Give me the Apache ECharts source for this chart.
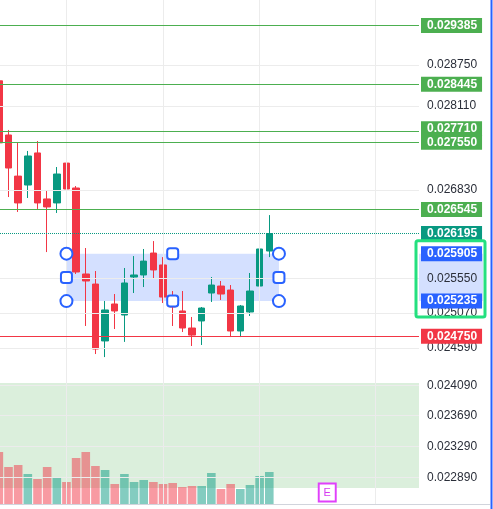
<!DOCTYPE html>
<html>
<head>
<meta charset="utf-8">
<script src="https://cdn.jsdelivr.net/npm/echarts@6.0.0/dist/echarts.min.js"></script>
<style>
  html, body { margin: 0; padding: 0; background: #fff; }
  #chart { width: 493px; height: 509px; }
</style>
</head>
<body>
<div id="chart"></div>
<script>
// candles (oldest first), the first one is cut by the left edge
const opens  = [0.02850, 0.027660, 0.027039, 0.026906, 0.027387, 0.026700, 0.026641, 0.027234, 0.026862, 0.025616,
                0.025474, 0.024686, 0.025195, 0.025042, 0.025573, 0.025602, 0.025914, 0.025744, 0.025279, 0.025098,
                0.024863, 0.024960, 0.025348, 0.025446, 0.025390, 0.024822, 0.025084, 0.025446, 0.025943];
const highs  = [0.02853, 0.027737, 0.027538, 0.027417, 0.027568, 0.026817, 0.027175, 0.027372, 0.026891, 0.025986,
                0.025658, 0.025237, 0.025334, 0.025701, 0.025871, 0.025972, 0.026086, 0.025856, 0.025376, 0.025376,
                0.025015, 0.025153, 0.025573, 0.025517, 0.025460, 0.025181, 0.025630, 0.026130, 0.026463];
const lows   = [0.02749, 0.026728, 0.026509, 0.026714, 0.026553, 0.025928, 0.026494, 0.026656, 0.025616, 0.024891,
                0.024508, 0.024467, 0.024849, 0.024673, 0.025348, 0.025432, 0.025545, 0.025209, 0.024891, 0.024808,
                0.024617, 0.024631, 0.025223, 0.025251, 0.024739, 0.024739, 0.025029, 0.025432, 0.025856];
const closes = [0.02754, 0.027160, 0.026641, 0.027341, 0.026641, 0.026582, 0.027070, 0.026847, 0.025644, 0.025517,
                0.024576, 0.025112, 0.025098, 0.025489, 0.025602, 0.025799, 0.025673, 0.025292, 0.025153, 0.024863,
                0.024766, 0.025139, 0.025460, 0.025334, 0.024822, 0.025167, 0.025376, 0.025972, 0.026195];
const volumes = [520, 370, 390, 300, 250, 370, 260, 220, 460, 520,
                 380, 340, 200, 300, 220, 240, 220, 200, 210, 170,
                 180, 180, 310, 150, 200, 150, 190, 280, 320];

// visible bar range (bar index units) and price range of the pane
const barRange = [0.12, 43.5];
const priceRange = [0.022560, 0.029801];

const greenLevels = [0.029385, 0.028445, 0.027710, 0.027550, 0.026545];
const redLevel = 0.024750;
const lastPrice = 0.026195;
const rectTop = 0.025905, rectBottom = 0.025235;
const rectFrom = 7, rectTo = 29;
const priceTicks = [0.028750, 0.028110, 0.026830, 0.025550, 0.025070, 0.024590, 0.024090, 0.023690, 0.023290, 0.022890];
const timeLines = [7, 17, 27, 39];
const greenZone = [0.024119, 0.022760];
const earningsAt = 34;

const UP = '#089981', DOWN = '#f23645', GREEN = '#4caf50', BLUE = '#2962ff';
const FONT = '"Liberation Sans", Arial, sans-serif';

// price pane is logarithmic: feed ln(price) to a linear axis
const L = Math.log;

const candleData = opens.map((o, i) => [i, L(o), L(closes[i]), L(lows[i]), L(highs[i])]);
const volumeData = volumes.map((v, i) => ({
  value: [i, v],
  itemStyle: { color: closes[i] >= opens[i] ? 'rgba(8,153,129,0.5)' : 'rgba(242,54,69,0.5)' }
}));

function tagLabel(bg, text, extra) {
  return Object.assign({
    show: true, position: 'end', distance: 2, formatter: text,
    backgroundColor: bg, color: '#fff', fontWeight: 'bold', fontSize: 12, fontFamily: FONT,
    padding: [1, 5, 1, 6], lineHeight: 13
  }, extra || {});
}

const gridLines = priceTicks.map(t => ({
  yAxis: L(t),
  label: { show: true, position: 'end', distance: 2, formatter: t.toFixed(6), color: '#2a2e39',
           fontSize: 12, fontFamily: FONT, padding: [1, 5, 1, 6], lineHeight: 13 }
})).concat(timeLines.map(i => ({ xAxis: i, label: { show: false } })));

const levelLines = greenLevels.map(v => ({
  yAxis: L(v),
  lineStyle: { color: GREEN, width: 1, type: 'solid' },
  label: tagLabel(GREEN, v.toFixed(6), v === 0.027710 ? { offset: [0, -3] } : {})
})).concat([
  { yAxis: L(redLevel), lineStyle: { color: DOWN, width: 1, type: 'solid' }, label: tagLabel(DOWN, redLevel.toFixed(6)) },
  { yAxis: L(lastPrice), lineStyle: { color: UP, width: 1, type: 'dotted' }, label: tagLabel(UP, lastPrice.toFixed(6)) },
  { yAxis: L(rectTop), lineStyle: { color: 'rgba(0,0,0,0)' }, label: tagLabel(BLUE, rectTop.toFixed(6)) },
  { yAxis: L(rectBottom), lineStyle: { color: 'rgba(0,0,0,0)' }, label: tagLabel(BLUE, rectBottom.toFixed(6)) }
]);

const handleStyle = { color: '#fff', borderColor: BLUE, borderWidth: 2 };
const rectMidY = (L(rectTop) + L(rectBottom)) / 2;
const rectMidX = Math.round((rectFrom + rectTo) / 2);
const handles = [
  { coord: [rectFrom, L(rectTop)], symbol: 'circle', symbolSize: 12 },
  { coord: [rectFrom, L(rectBottom)], symbol: 'circle', symbolSize: 12 },
  { coord: [rectTo, L(rectTop)], symbol: 'circle', symbolSize: 12 },
  { coord: [rectTo, L(rectBottom)], symbol: 'circle', symbolSize: 12 },
  { coord: [rectFrom, rectMidY], symbol: 'roundRect', symbolSize: 11 },
  { coord: [rectTo, rectMidY], symbol: 'roundRect', symbolSize: 11 },
  { coord: [rectMidX, L(rectTop)], symbol: 'roundRect', symbolSize: 11 },
  { coord: [rectMidX, L(rectBottom)], symbol: 'roundRect', symbolSize: 11 }
].map(h => Object.assign(h, { itemStyle: handleStyle }));

const chart = echarts.init(document.getElementById('chart'), null, { renderer: 'canvas' });

chart.setOption({
  animation: false,
  backgroundColor: '#fff',
  grid: [
    { left: 0, right: 74, top: 0, bottom: 5 },
    { left: 0, right: 74, top: 404, bottom: 5 }
  ],
  xAxis: [
    { type: 'value', gridIndex: 0, min: barRange[0], max: barRange[1], show: false, splitLine: { show: false } },
    { type: 'value', gridIndex: 1, min: barRange[0], max: barRange[1], show: false, splitLine: { show: false } }
  ],
  yAxis: [
    { type: 'value', gridIndex: 0, min: L(priceRange[0]), max: L(priceRange[1]), scale: true, show: false, splitLine: { show: false } },
    { type: 'value', gridIndex: 1, min: 0, max: 1000, show: false, splitLine: { show: false } }
  ],
  series: [
    {
      name: 'volume', type: 'bar', xAxisIndex: 1, yAxisIndex: 1, z: 1,
      data: volumeData, barWidth: 8.6, clip: true,
      markPoint: {
        silent: true,
        data: [{
          coord: [earningsAt, 115], symbol: 'rect', symbolSize: [17, 18],
          itemStyle: { color: '#fff', borderColor: '#e040fb', borderWidth: 2 },
          label: { show: true, formatter: 'E', color: '#d53bf0', fontSize: 11, fontFamily: FONT }
        }]
      }
    },
    {
      name: 'grid', type: 'line', data: [], z: 1,
      markLine: {
        silent: true, symbol: ['none', 'none'], animation: false, precision: 12,
        lineStyle: { color: '#ececec', width: 1, type: 'solid' },
        data: gridLines
      }
    },
    {
      name: 'zone', type: 'line', data: [], z: 2,
      markArea: {
        silent: true,
        itemStyle: { color: 'rgba(76,175,80,0.2)' },
        data: [[{ yAxis: L(greenZone[0]) }, { yAxis: L(greenZone[1]) }]]
      }
    },
    {
      name: 'price', type: 'candlestick', z: 3, data: candleData, barWidth: 7, clip: true,
      itemStyle: { color: UP, color0: DOWN, borderColor: UP, borderColor0: DOWN, borderWidth: 1 }
    },
    {
      name: 'levels', type: 'line', data: [], z: 4,
      markLine: { silent: true, symbol: ['none', 'none'], animation: false, precision: 12, data: levelLines }
    },
    {
      name: 'rectangle', type: 'line', data: [], z: 5,
      markArea: {
        silent: true,
        itemStyle: { color: 'rgba(41,98,255,0.2)' },
        data: [[{ coord: [rectFrom, L(rectTop)] }, { coord: [rectTo, L(rectBottom)] }]]
      },
      markPoint: { silent: true, label: { show: false }, data: handles }
    }
  ]
});

// price-scale highlight of the selected rectangle
const yTop = chart.convertToPixel({ yAxisIndex: 0 }, L(rectTop));
const yBot = chart.convertToPixel({ yAxisIndex: 0 }, L(rectBottom));
chart.setOption({
  graphic: [
    { type: 'rect', z: 0, silent: true, shape: { x: 419, y: yTop, width: 64, height: yBot - yTop },
      style: { fill: 'rgba(41,98,255,0.2)' } },
    { type: 'rect', z: 100, silent: true, shape: { x: 416, y: yTop - 13, width: 69, height: yBot - yTop + 29, r: 2 },
      style: { fill: 'none', stroke: '#24e07f', lineWidth: 3 } },
    { type: 'line', z: 100, silent: true, shape: { x1: 0, y1: 504.5, x2: 490, y2: 504.5 },
      style: { stroke: '#d1d4dc', lineWidth: 1 } },
    { type: 'line', z: 100, silent: true, shape: { x1: 491.5, y1: 0, x2: 491.5, y2: 509 },
      style: { stroke: BLUE, lineWidth: 2 } }
  ]
});
</script>
</body>
</html>
